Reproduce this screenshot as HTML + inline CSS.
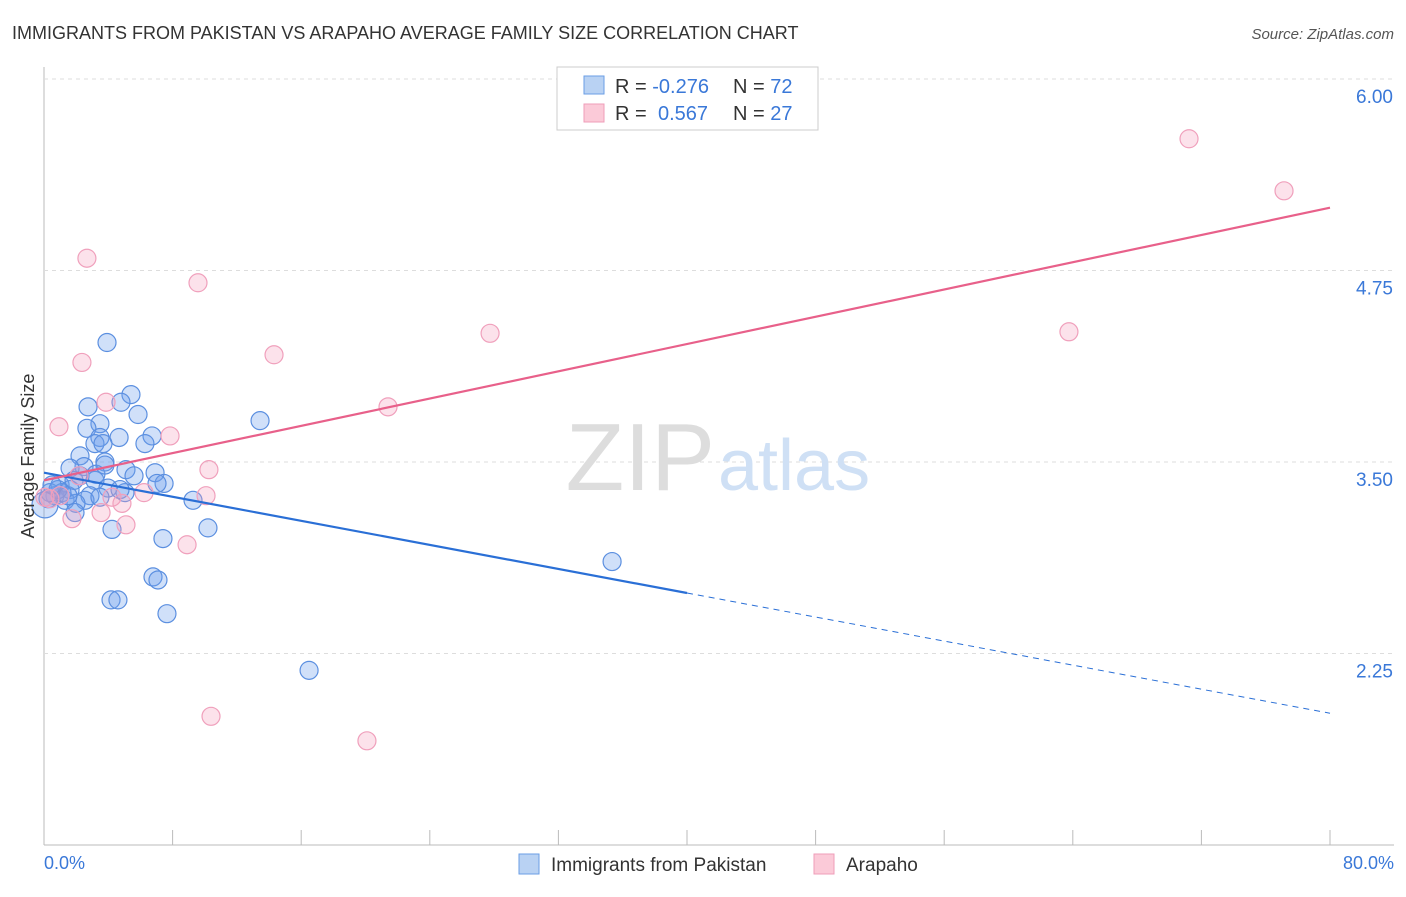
<!DOCTYPE html>
<html><head><meta charset="utf-8"><style>
body{margin:0;background:#fff;font-family:"Liberation Sans",sans-serif;}
svg text{font-family:"Liberation Sans",sans-serif;}
</style></head><body>
<svg id="chart" width="1406" height="892">
<text x="12" y="39" font-size="18" fill="#333">IMMIGRANTS FROM PAKISTAN VS ARAPAHO AVERAGE FAMILY SIZE CORRELATION CHART</text>
<text x="1394" y="39" font-size="15" fill="#555" font-style="italic" text-anchor="end">Source: ZipAtlas.com</text>
<g id="grid"></g>
<text x="715" y="490" font-size="96" fill="#ddd" font-family="Liberation Serif" text-anchor="end">ZIP</text>
<text x="718" y="490" font-size="72" fill="#cfe0f5">atlas</text>
<g id="pts"></g>
<g id="lines"></g>
<text transform="translate(34,456) rotate(-90)" font-size="18" fill="#333" text-anchor="middle">Average Family Size</text>
<text x="44" y="869" font-size="18" fill="#3a78d8">0.0%</text>
<text x="1394" y="869" font-size="18" fill="#3a78d8" text-anchor="end">80.0%</text>
<g>
<rect x="557" y="67" width="261" height="63" fill="#fff" stroke="#ccc"/>
<rect x="584" y="76" width="20" height="18" fill="#b9d2f3" stroke="#6a9ee6"/>
<rect x="584" y="104" width="20" height="18" fill="#fbcad8" stroke="#ef9db9"/>
<text x="615" y="93" font-size="20" fill="#333">R = <tspan fill="#3a78d8">-0.276</tspan><tspan x="733">N = </tspan><tspan fill="#3a78d8">72</tspan></text>
<text x="615" y="120" font-size="20" fill="#333">R = <tspan x="658" fill="#3a78d8">0.567</tspan><tspan x="733">N = </tspan><tspan fill="#3a78d8">27</tspan></text>
</g>
<g>
<rect x="519" y="854" width="20" height="20" fill="#b9d2f3" stroke="#6a9ee6"/>
<text x="551" y="871" font-size="19" fill="#333">Immigrants from Pakistan</text>
<rect x="814" y="854" width="20" height="20" fill="#fbcad8" stroke="#ef9db9"/>
<text x="846" y="871" font-size="19" fill="#333">Arapaho</text>
</g>
</svg>
<script>
const yTicks=[6.00,4.75,3.50,2.25];
const blueX=[3.92,5.41,4.79,2.74,5.85,13.44,3.48,2.67,3.48,6.72,4.67,6.28,3.17,3.67,2.24,3.79,2.49,1.62,5.10,6.91,5.60,2.24,3.17,1.00,3.98,7.47,7.03,5.04,1.62,2.86,0.68,0.25,1.31,2.55,1.99,9.27,3.48,1.12,0.37,0.06,10.20,4.23,7.40,6.78,7.09,35.34,4.17,4.60,7.65,16.49,1.93,0.87,1.49,0.50,4.73,1.87,3.23,3.79];
const blueY=[4.28,3.94,3.89,3.86,3.81,3.77,3.75,3.72,3.66,3.67,3.66,3.62,3.62,3.62,3.54,3.50,3.47,3.46,3.45,3.43,3.41,3.41,3.38,3.35,3.33,3.36,3.36,3.30,3.32,3.28,3.28,3.26,3.25,3.25,3.23,3.25,3.27,3.30,3.30,3.22,3.07,3.06,3.00,2.75,2.73,2.85,2.60,2.60,2.51,2.14,3.17,3.32,3.28,3.35,3.32,3.38,3.42,3.48];
const pinkX=[2.67,9.58,2.36,14.31,27.75,21.40,3.86,7.84,0.93,10.26,2.18,6.22,10.08,4.23,4.85,3.55,1.74,5.10,8.90,10.39,20.09,71.23,77.14,63.76,1.00,0.37,0.06];
const pinkY=[4.83,4.67,4.15,4.20,4.34,3.86,3.89,3.67,3.73,3.45,3.41,3.30,3.28,3.27,3.23,3.17,3.13,3.09,2.96,1.84,1.68,5.61,5.27,4.35,3.28,3.26,3.27];
const blueTrend=[3.43,2.645,1.86];
const pinkTrend=[3.38,5.16];
const NS='http://www.w3.org/2000/svg';
const xs=v=>44+v/80*1286, ys=v=>79+(6-v)*153.2;
function mk(tag,attrs,parent){const e=document.createElementNS(NS,tag);for(const k in attrs)e.setAttribute(k,attrs[k]);parent.appendChild(e);return e;}
const grid=document.getElementById('grid');
let ax=mk('line',{x1:44,y1:67,x2:44,y2:845,stroke:'#bbb'},grid);


let bx=mk('line',{x1:44,y1:845,x2:1394,y2:845,stroke:'#bbb'},grid);


for(let i=0;i<=10;i++){const t=mk('line',{x1:xs(i*8),y1:830,x2:xs(i*8),y2:845,stroke:'#bbb'},grid);

}
yTicks.forEach(v=>{const l=mk('line',{x1:44,y1:ys(v),x2:1394,y2:ys(v),stroke:'#ddd','stroke-dasharray':'4,4'},grid);


const t=mk('text',{x:1393,y:ys(v)+24,'font-size':19,fill:'#3a78d8','text-anchor':'end'},grid);t.textContent=v.toFixed(2);

});
const pts=document.getElementById('pts');
blueX.forEach((x,i)=>{const c=mk('circle',{cx:xs(x),cy:ys(blueY[i]),r:(i==39?13:9),fill:'rgba(110,160,235,0.32)',stroke:'#5b8fe0','stroke-width':1.2},pts);

});
pinkX.forEach((x,i)=>{const c=mk('circle',{cx:xs(x),cy:ys(pinkY[i]),r:9,fill:'rgba(245,160,190,0.3)',stroke:'#f0a0bc','stroke-width':1.2},pts);

});
const lines=document.getElementById('lines');
let b1=mk('line',{x1:xs(0),y1:ys(blueTrend[0]),x2:xs(40),y2:ys(blueTrend[1]),stroke:'#2a6fd6','stroke-width':2.2},lines);


let b2=mk('line',{x1:xs(40),y1:ys(blueTrend[1]),x2:xs(80),y2:ys(blueTrend[2]),stroke:'#2a6fd6','stroke-width':1,'stroke-dasharray':'6,5'},lines);


let p1=mk('line',{x1:xs(0),y1:ys(pinkTrend[0]),x2:xs(80),y2:ys(pinkTrend[1]),stroke:'#e8608a','stroke-width':2.2},lines);


</script>
</body></html>
